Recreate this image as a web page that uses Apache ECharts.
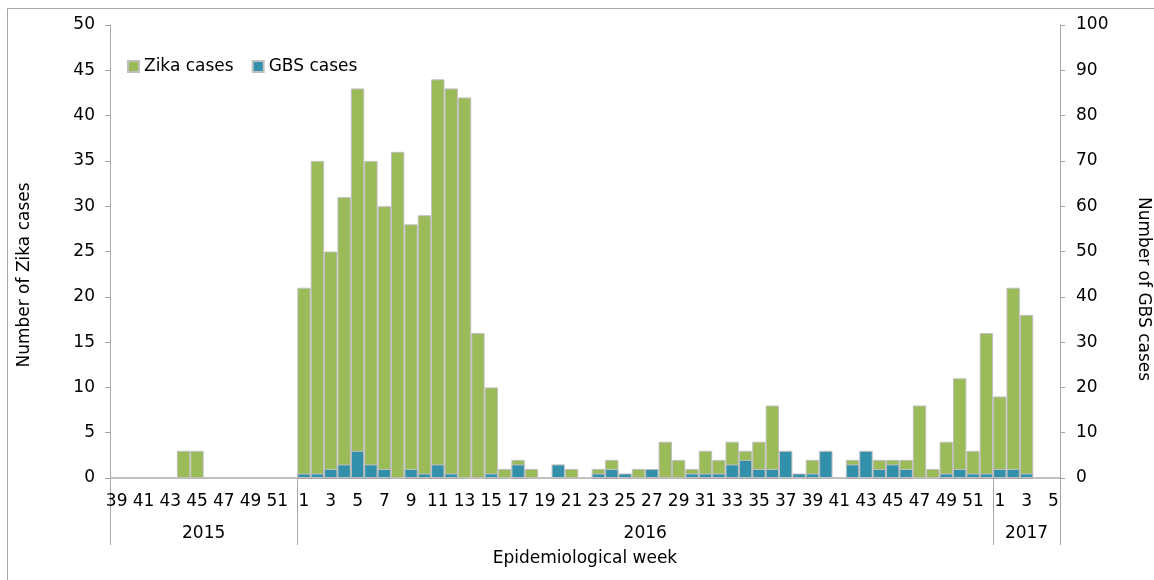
<!DOCTYPE html>
<html>
<head>
<meta charset="utf-8">
<script src="https://cdn.jsdelivr.net/npm/echarts@6/dist/echarts.min.js"></script>
<style>
html,body{margin:0;padding:0;background:#fff;}
#chart{width:1154px;height:580px;}
</style>
</head>
<body>
<div id="chart"></div>
<script>
// Epidemiological week labels
var weeks2015 = ['39','40','41','42','43','44','45','46','47','48','49','50','51','52'];
var weeks2016 = ['1','2','3','4','5','6','7','8','9','10','11','12','13','14','15','16','17','18','19','20','21','22','23','24','25','26','27','28','29','30','31','32','33','34','35','36','37','38','39','40','41','42','43','44','45','46','47','48','49','50','51','52'];
var weeks2017 = ['1','2','3','4','5'];
var years = ['2015', '2016', '2017'];

// Zika cases (left axis)
var zika2015 = [0,0,0,0,0,3,3,0,0,0,0,0,0,0];
var zika2016 = [21,35,25,31,43,35,30,36,28,29, 44,43,42,16,10,1,2,1,0,0, 1,0,1,2,0,1,0,4,2,1, 3,2,4,3,4,8,0,0,2,0, 0,2,0,2,2,2,8,1,4,11,3,16];
var zika2017 = [9,21,18,0,0];

// GBS cases (right axis)
var gbs2015 = [0,0,0,0,0,0,0,0,0,0,0,0,0,0];
var gbs2016 = [1,1,2,3,6,3,2,0,2,1, 3,1,0,0,1,0,3,0,0,3, 0,0,1,2,1,0,2,0,0,1, 1,1,3,4,2,2,6,1,1,6, 0,3,6,2,3,2,0,0,1,2,1,1];
var gbs2017 = [2,2,1,0,0];

var categories = weeks2015.concat(weeks2016, weeks2017);
var zika = zika2015.concat(zika2016, zika2017);
var gbs = gbs2015.concat(gbs2016, gbs2017);

var n1 = weeks2015.length, n2 = weeks2016.length, n3 = weeks2017.length;
var total = n1 + n2 + n3;
var yearBounds = [0, n1, n1 + n2, total];
var yearCenters = [n1 / 2, n1 + n2 / 2, n1 + n2 + n3 / 2];

var FONT = 'DejaVu Sans';
var FS = 17;
var AXIS = '#a6a6a6';
var TXT = '#000000';

var chart = echarts.init(document.getElementById('chart'), null, {renderer: 'canvas'});
chart.setOption({
  animation: false,
  backgroundColor: '#ffffff',
  textStyle: {fontFamily: FONT},
  grid: {left: 110, right: 94, top: 25, bottom: 102, containLabel: false},
  legend: {
    left: 127, top: 58, padding: 0,
    itemWidth: 11, itemHeight: 11, itemGap: 18,
    icon: 'rect',
    textStyle: {fontFamily: FONT, fontSize: FS, color: TXT},
    data: ['Zika cases', 'GBS cases']
  },
  xAxis: [{
    type: 'category',
    data: categories,
    boundaryGap: true,
    axisLine: {lineStyle: {color: AXIS, width: 1}},
    axisTick: {show: false},
    axisLabel: {interval: 1, margin: 15, fontFamily: FONT, fontSize: FS, color: TXT}
  }, {
    type: 'value',
    min: 0, max: total,
    position: 'bottom',
    axisLine: {show: false},
    splitLine: {show: false},
    axisTick: {show: true, customValues: yearBounds, length: 67, lineStyle: {color: AXIS, width: 1}},
    axisLabel: {
      customValues: yearCenters,
      margin: 47,
      fontFamily: FONT, fontSize: FS, color: TXT,
      formatter: function (v) {
        var i = yearCenters.indexOf(v);
        return i >= 0 ? years[i] : '';
      }
    }
  }],
  yAxis: [{
    type: 'value', min: 0, max: 50, interval: 5,
    position: 'left',
    axisLine: {show: true, lineStyle: {color: AXIS}},
    axisTick: {show: true, length: 5, lineStyle: {color: AXIS}},
    splitLine: {show: false},
    axisLabel: {margin: 15, fontFamily: FONT, fontSize: FS, color: TXT}
  }, {
    type: 'value', min: 0, max: 100, interval: 10,
    position: 'right',
    axisLine: {show: true, lineStyle: {color: AXIS}},
    axisTick: {show: true, length: 5, lineStyle: {color: AXIS}},
    splitLine: {show: false},
    axisLabel: {margin: 16, fontFamily: FONT, fontSize: FS, color: TXT}
  }],
  series: [{
    name: 'Zika cases',
    type: 'bar',
    xAxisIndex: 0, yAxisIndex: 0,
    data: zika,
    barCategoryGap: '0%',
    barGap: '-100%',
    itemStyle: {color: '#9bbb59', borderColor: '#bfbfbf', borderWidth: 1}
  }, {
    name: 'GBS cases',
    type: 'bar',
    xAxisIndex: 0, yAxisIndex: 1,
    data: gbs,
    barCategoryGap: '0%',
    barGap: '-100%',
    itemStyle: {color: '#3290aa', borderColor: '#bfbfbf', borderWidth: 1}
  }],
  graphic: [{
    type: 'rect',
    shape: {x: 7.5, y: 8.5, width: 1200, height: 620},
    style: {fill: 'none', stroke: '#a6a6a6', lineWidth: 1},
    silent: true
  }, {
    type: 'text',
    x: 25, y: 275,
    rotation: Math.PI / 2,
    style: {text: 'Number of Zika cases', font: FS + 'px "DejaVu Sans"', fill: TXT, align: 'center', verticalAlign: 'middle'}
  }, {
    type: 'text',
    x: 1143, y: 289,
    rotation: -Math.PI / 2,
    style: {text: 'Number of GBS cases', font: FS + 'px "DejaVu Sans"', fill: TXT, align: 'center', verticalAlign: 'middle'}
  }, {
    type: 'text',
    x: 585, y: 559,
    style: {text: 'Epidemiological week', font: FS + 'px "DejaVu Sans"', fill: TXT, align: 'center', verticalAlign: 'middle'}
  }]
});
</script>
</body>
</html>
